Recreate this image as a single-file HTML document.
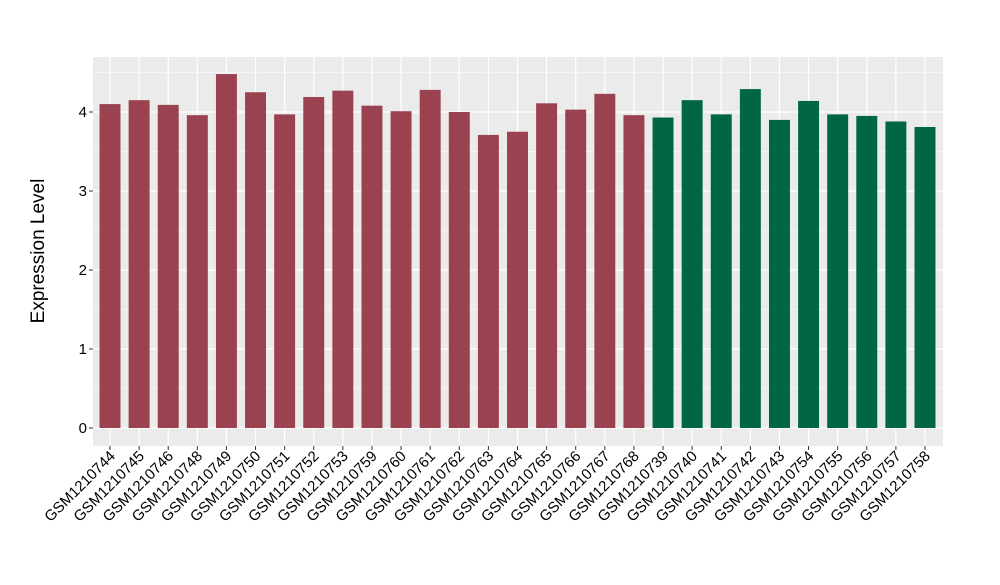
<!DOCTYPE html>
<html><head><meta charset="utf-8"><style>
body{margin:0;background:#fff;font-family:"Liberation Sans",sans-serif}
</style></head><body>
<svg id="c" width="1000" height="580"></svg>
<script>
const categories=["GSM1210744","GSM1210745","GSM1210746","GSM1210748","GSM1210749","GSM1210750","GSM1210751","GSM1210752","GSM1210753","GSM1210759","GSM1210760","GSM1210761","GSM1210762","GSM1210763","GSM1210764","GSM1210765","GSM1210766","GSM1210767","GSM1210768","GSM1210739","GSM1210740","GSM1210741","GSM1210742","GSM1210743","GSM1210754","GSM1210755","GSM1210756","GSM1210757","GSM1210758"];
const values=[4.10,4.15,4.09,3.96,4.48,4.25,3.97,4.19,4.27,4.08,4.01,4.28,4.00,3.71,3.75,4.11,4.03,4.23,3.96,3.93,4.15,3.97,4.29,3.90,4.14,3.97,3.95,3.88,3.81];
const groups=[0,0,0,0,0,0,0,0,0,0,0,0,0,0,0,0,0,0,0,1,1,1,1,1,1,1,1,1,1];
const yTicks=[0,1,2,3,4];
const colors=["#9A4250","#006742"];
const NS="http://www.w3.org/2000/svg";
const svg=document.getElementById('c');
const L=93,R=943,T=57,B=446;
const y=v=>428-v*79;
const band=(925-110)/(categories.length-1);
const x=i=>110+band*i;
function mk(t,a,p){const e=document.createElementNS(NS,t);for(const k in a)e.setAttribute(k,a[k]);(p||svg).appendChild(e);return e;}
const bg=mk('rect',{x:L,y:T,width:R-L,height:B-T,fill:'#EBEBEB'});


for(let i=0;i<yTicks.length;i++){
 const v=yTicks[i];
 const m=mk('line',{x1:L,x2:R,y1:y(v+0.5),y2:y(v+0.5),stroke:'#fff','stroke-width':0.6});
 
 
 const g=mk('line',{x1:L,x2:R,y1:y(v),y2:y(v),stroke:'#fff','stroke-width':1.2});
 
 
 mk('line',{x1:L-4,x2:L,y1:y(v),y2:y(v),stroke:'#333'});
 const t=mk('text',{x:L-6,y:y(v)+5,'text-anchor':'end','font-size':15,fill:'#000'});t.textContent=v;
 
 
}
categories.forEach((c,i)=>{
 const g=mk('line',{x1:x(i),x2:x(i),y1:T,y2:B,stroke:'#fff','stroke-width':1.2});
 
 
 const w=band*0.72;
 const r=mk('rect',{x:x(i)-w/2,y:y(values[i]),width:w,height:y(0)-y(values[i]),fill:colors[groups[i]]});
 
 
 mk('line',{x1:x(i),x2:x(i),y1:B,y2:B+4,stroke:'#333'});
 const t=mk('text',{transform:`translate(${x(i)+6},${B+11}) rotate(-45)`,'text-anchor':'end','font-size':15,fill:'#000'});t.textContent=c;
 
 
});
const yt=mk('text',{transform:`translate(44,251) rotate(-90)`,'text-anchor':'middle','font-size':19,fill:'#000'});yt.textContent='Expression Level';


</script>
</body></html>
